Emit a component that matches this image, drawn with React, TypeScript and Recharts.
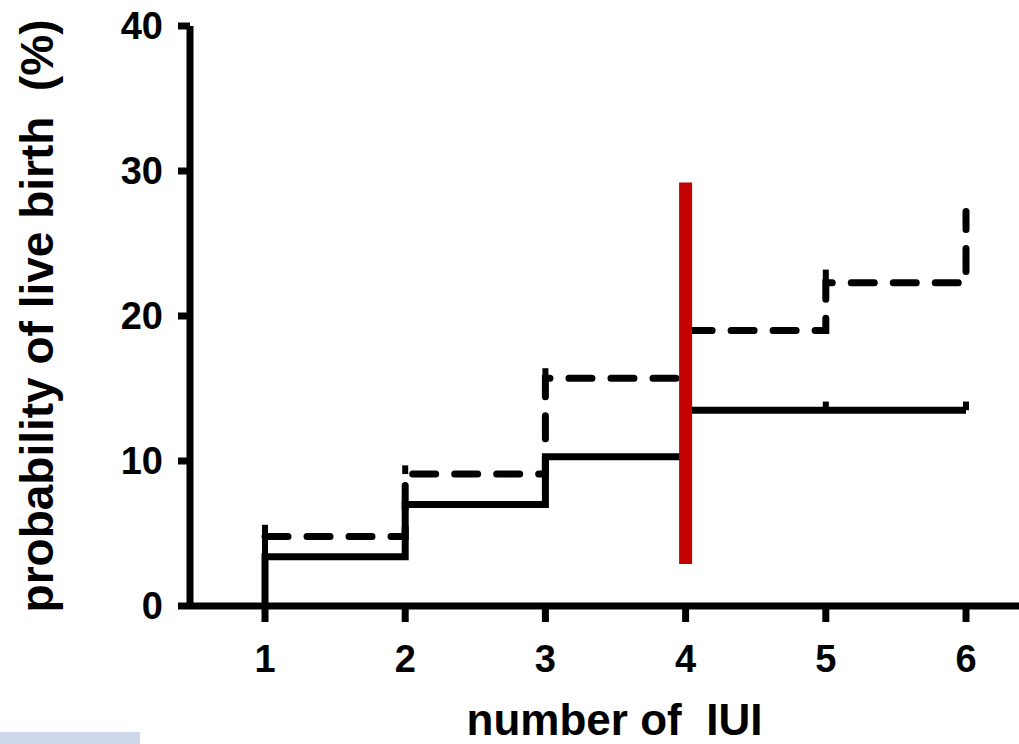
import React from "react";
import {
  LineChart,
  Line,
  XAxis,
  YAxis,
  ReferenceLine,
  Label,
} from "recharts";

// step curves (x = IUI number, y = cumulative %)
const solidX = [1, 1, 2, 3, 4, 5, 6];
const solidY = [0, 3.4, 7.0, 10.3, 13.5, 13.5, 13.5];

const dashedX = [1, 2, 3, 4, 5, 6];
const dashedY = [4.8, 9.1, 15.7, 19.0, 22.3, 27.2];

// censor marks: [x, from, to]
const censorMarks: [number, number, number][] = [
  [1, 3.4, 5.6],
  [2, 9.1, 9.7],
  [3, 15.7, 16.4],
  [5, 22.3, 23.2],
  [5, 13.5, 14.1],
  [6, 13.5, 14.1],
];

const cutoffX = 4;
const cutoffRange = [2.9, 29.2];

const xTicks = [1, 2, 3, 4, 5, 6];
const yTicks = [0, 10, 20, 30, 40];

const FONT = "'Liberation Sans', Arial, Helvetica, sans-serif";

const solidData = solidX.map((x, i) => ({ x, y: solidY[i] }));
const dashedData = dashedX.map((x, i) => ({ x, y: dashedY[i] }));

export default function App() {
  return (
    <div
      style={{
        position: "absolute",
        left: 0,
        top: 0,
        width: 1019,
        height: 744,
        background: "#fff",
        fontFamily: FONT,
      }}
    >
      <LineChart
        width={1019}
        height={744}
        margin={{ top: 26, right: 0, bottom: 0, left: 0 }}
      >
        <XAxis
          type="number"
          dataKey="x"
          domain={[0.465, 6.378]}
          ticks={xTicks}
          allowDataOverflow
          height={138}
          stroke="#000"
          strokeWidth={7}
          tickSize={16}
          tickMargin={23}
          tick={{ fontSize: 38, fontWeight: 700, fill: "#000", fontFamily: FONT }}
        >
          <Label
            value={"number of \u00A0IUI"}
            position="center"
            dx={10}
            dy={44}
            style={{ fontSize: 44, fontWeight: 700, fill: "#000", fontFamily: FONT }}
          />
        </XAxis>
        <YAxis
          type="number"
          domain={[0, 40]}
          ticks={yTicks}
          width={190}
          stroke="#000"
          strokeWidth={7}
          tickSize={12}
          tickMargin={15}
          tick={{ fontSize: 38, fontWeight: 700, fill: "#000", fontFamily: FONT }}
        >
          <Label
            value={"probability of live birth \u00A0(%)"}
            position="center"
            angle={-90}
            dx={-58}
            style={{ fontSize: 46, fontWeight: 700, fill: "#000", fontFamily: FONT }}
          />
        </YAxis>
        <Line
          data={solidData}
          dataKey="y"
          type="stepAfter"
          stroke="#000"
          strokeWidth={7}
          dot={false}
          isAnimationActive={false}
        />
        <Line
          data={dashedData}
          dataKey="y"
          type="stepAfter"
          stroke="#000"
          strokeWidth={7}
          strokeDasharray="23 19"
          strokeLinecap="round"
          dot={false}
          isAnimationActive={false}
        />
        {censorMarks.map(([x, a, b], i) => (
          <ReferenceLine
            key={i}
            segment={[
              { x, y: a },
              { x, y: b },
            ]}
            stroke="#000"
            strokeWidth={6}
          />
        ))}
        <ReferenceLine
          segment={[
            { x: cutoffX, y: cutoffRange[0] },
            { x: cutoffX, y: cutoffRange[1] },
          ]}
          stroke="#c40000"
          strokeWidth={13}
        />
      </LineChart>
      <div
        style={{
          position: "absolute",
          left: 0,
          top: 732,
          width: 140,
          height: 12,
          background: "#d0d8ec",
        }}
      />
    </div>
  );
}
